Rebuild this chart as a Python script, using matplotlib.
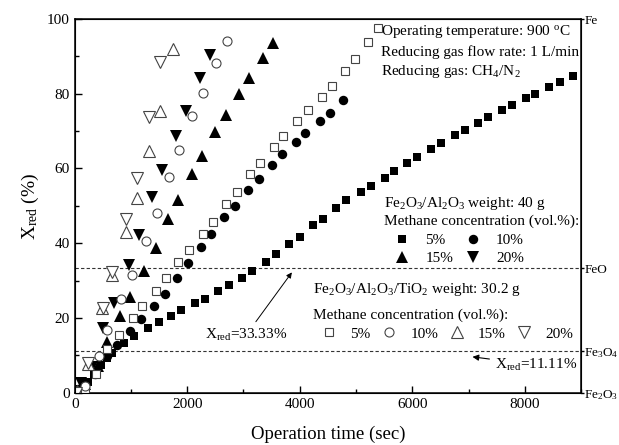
import matplotlib
matplotlib.use("Agg")
import matplotlib.pyplot as plt
from matplotlib.ticker import MultipleLocator

plt.rcParams['font.family'] = ['Liberation Serif', 'DejaVu Serif']
plt.rcParams['mathtext.fontset'] = 'custom'
plt.rcParams['mathtext.rm'] = 'Liberation Serif'
plt.rcParams['mathtext.it'] = 'Liberation Serif:italic'

# ---- data: Fe2O3/Al2O3 (filled markers) ----
fa5_t = [0, 100, 230, 340, 460, 570, 670, 870, 1060, 1310, 1490, 1720, 1890, 2140, 2320, 2540, 2750,
         2970, 3160, 3400, 3570, 3810, 4000, 4230, 4410, 4650, 4830, 5080, 5260, 5510, 5680, 5910,
         6090, 6340, 6510, 6760, 6940, 7170, 7350, 7590, 7780, 8020, 8190, 8430, 8620, 8850]
fa5_y = [0, 1.1, 2.9, 5.1, 7.5, 9.4, 10.5, 13.4, 15.3, 17.4, 18.8, 20.6, 22.0, 23.9, 25.2, 27.1, 28.7,
         30.8, 32.7, 35.1, 37.0, 39.7, 41.8, 44.8, 46.6, 49.3, 51.5, 53.6, 55.2, 57.4, 59.2, 61.4,
         63.0, 65.1, 66.8, 68.9, 70.2, 72.1, 73.7, 75.6, 76.9, 78.8, 79.9, 81.8, 83.1, 84.7]
fa10_t = [0, 50, 170, 360, 580, 760, 980, 1170, 1410, 1600, 1820, 2020, 2250, 2420, 2660, 2850,
          3080, 3280, 3500, 3680, 3930, 4100, 4360, 4530, 4760]
fa10_y = [0, 1.1, 2.1, 5.1, 9.7, 12.9, 16.6, 19.6, 23.3, 26.5, 30.8, 34.6, 38.9, 42.4, 46.9, 49.9,
          54.2, 57.1, 60.9, 63.8, 67.0, 69.4, 72.7, 74.8, 78.3]
fa15_t = [0, 190, 410, 580, 810, 990, 1240, 1440, 1650, 1840, 2090, 2270, 2490, 2690, 2920, 3090, 3350, 3520]
fa15_y = [0, 2.4, 7.2, 13.7, 20.4, 25.5, 32.7, 38.6, 46.4, 51.7, 58.4, 63.3, 69.7, 74.3, 79.9, 84.2, 89.5, 93.6]
fa20_t = [0, 120, 300, 510, 690, 960, 1150, 1380, 1560, 1800, 1980, 2230, 2410]
fa20_y = [0, 2.5, 7.0, 17.4, 24.1, 34.3, 42.1, 52.3, 59.5, 68.6, 75.3, 84.2, 90.3]

# ---- data: Fe2O3/Al2O3/TiO2 (open markers) ----
ft5_t = [0, 190, 380, 580, 780, 1030, 1200, 1440, 1630, 1840, 2040, 2280, 2460, 2690, 2880, 3110,
         3290, 3540, 3710, 3950, 4140, 4390, 4570, 4810, 4990, 5220, 5390]
ft5_y = [0, 0.8, 5.1, 11.8, 15.5, 20.1, 23.3, 27.3, 30.6, 35.1, 38.1, 42.4, 45.8, 50.4, 53.6, 58.4,
         61.4, 65.7, 68.6, 72.7, 75.6, 79.1, 82.0, 86.1, 89.3, 93.8, 97.6]
ft10_t = [0, 190, 430, 580, 830, 1010, 1270, 1460, 1680, 1860, 2090, 2280, 2510, 2710]
ft10_y = [0, 1.9, 9.9, 16.9, 25.2, 31.6, 40.5, 48.0, 57.6, 64.9, 74.0, 80.2, 88.2, 94.1]
ft15_t = [0, 40, 230, 480, 670, 920, 1100, 1320, 1510, 1750]
ft15_y = [0, 0.5, 7.8, 22.8, 31.6, 42.9, 52.0, 64.6, 75.3, 92.0]
ft20_t = [0, 30, 230, 500, 670, 920, 1100, 1320, 1510]
ft20_y = [0, 0, 8.0, 22.8, 32.4, 46.6, 57.4, 73.7, 88.5]

phase_vals = [0, 11.11, 33.33, 100]
phase_labels = ['Fe$_2$O$_3$', 'Fe$_3$O$_4$', 'FeO', 'Fe']

fig = plt.figure(figsize=(6.19, 4.45), dpi=100)
ax = fig.add_axes([0.1207, 0.1175, 0.8180, 0.8398])

ec_open = '#444444'
size = {'s': 6.3, 'o': 6.8, '^': 8.0, 'v': 8.0}
size_open = {'s': 6.0, 'o': 6.5, '^': 8.0, 'v': 8.0}
filled = [(fa5_t, fa5_y, 's', '5%'), (fa10_t, fa10_y, 'o', '10%'),
          (fa15_t, fa15_y, '^', '15%'), (fa20_t, fa20_y, 'v', '20%')]
opened = [(ft5_t, ft5_y, 's', '5%'), (ft10_t, ft10_y, 'o', '10%'),
          (ft15_t, ft15_y, '^', '15%'), (ft20_t, ft20_y, 'v', '20%')]
h_f, h_o = [], []
for t, y, m, lab in filled:
    ln, = ax.plot(t, y, m, color='black', ms=size[m], mew=0, label=lab, zorder=3)
    h_f.append(ln)
for t, y, m, lab in opened:
    ln, = ax.plot(t, y, m, mfc='white', mec=ec_open, ms=size_open[m], mew=0.8, label=lab, zorder=4)
    h_o.append(ln)

for v in phase_vals[1:3]:
    ax.axhline(v, color='#333333', lw=0.8, ls=(0, (3, 2)), zorder=1)

ax.set_xlim(0, 9000)
ax.set_ylim(0, 100)
ax.xaxis.set_major_locator(MultipleLocator(2000))
ax.xaxis.set_minor_locator(MultipleLocator(1000))
ax.yaxis.set_major_locator(MultipleLocator(20))
ax.yaxis.set_minor_locator(MultipleLocator(10))
ax.tick_params(which='both', direction='in', top=False, right=False, labelsize=11)
ax.tick_params(which='major', length=5, width=1)
ax.tick_params(which='minor', length=3, width=1)
for s in ax.spines.values():
    s.set_linewidth(1.1)

ax2 = ax.twinx()
ax2.set_ylim(0, 100)
ax2.set_yticks(phase_vals)
ax2.set_yticklabels(phase_labels)
ax2.tick_params(direction='out', length=2, width=1, labelsize=9.5, pad=0.3)

ax.set_xlabel('Operation time (sec)', fontsize=13.5, labelpad=11)
ax.set_ylabel('X$_{\\mathrm{red}}$ (%)', fontsize=14, labelpad=4)

ax.text(0.605, 0.988, 'Operating temperature: 900 $^{\\mathrm{o}}$C\nReducing gas flow rate: 1 L/min\nReducing gas: CH$_4$/N$_2$',
        transform=ax.transAxes, fontsize=11, va='top', ha='left', linespacing=1.4)

# legend block 1
ax.text(0.610, 0.505, 'Fe$_2$O$_3$/Al$_2$O$_3$ weight: 40 g', transform=ax.transAxes,
        fontsize=11, va='center', ha='left')
ax.text(0.610, 0.459, 'Methane concentration (vol.%):', transform=ax.transAxes,
        fontsize=11, va='center', ha='left')
leg1 = ax.legend([h_f[0], h_f[2], h_f[1], h_f[3]], ['5%', '15%', '10%', '20%'], ncol=2,
                 loc='upper left', bbox_to_anchor=(0.632, 0.426), frameon=False, fontsize=11,
                 handlelength=1.0, handletextpad=1.0, columnspacing=0.8, labelspacing=0.3,
                 borderpad=0.0, borderaxespad=0.0)
ax.add_artist(leg1)

# legend block 2
ax.text(0.471, 0.275, 'Fe$_2$O$_3$/Al$_2$O$_3$/TiO$_2$ weight: 30.2 g', transform=ax.transAxes,
        fontsize=11, va='center', ha='left')
ax.text(0.471, 0.208, 'Methane concentration (vol.%):', transform=ax.transAxes,
        fontsize=11, va='center', ha='left')
leg2 = ax.legend(h_o, ['5%', '10%', '15%', '20%'], ncol=4,
                 loc='upper left', bbox_to_anchor=(0.487, 0.176), frameon=False, fontsize=11,
                 handlelength=1.0, handletextpad=0.9, columnspacing=0.7, borderpad=0.0,
                 borderaxespad=0.0)

ax.annotate('X$_{\\mathrm{red}}$=33.33%', xy=(3860, 32.2), xytext=(3050, 15.5), fontsize=11,
            ha='center', va='center',
            arrowprops=dict(arrowstyle='-|>', color='black', lw=0.7, mutation_scale=8, shrinkA=2, shrinkB=0))
ax.annotate('X$_{\\mathrm{red}}$=11.11%', xy=(7070, 9.6), xytext=(8200, 7.4), fontsize=11,
            ha='center', va='center',
            arrowprops=dict(arrowstyle='-|>', color='black', lw=0.8, mutation_scale=9, shrinkA=2, shrinkB=0))

fig.savefig('out.png', dpi=100)
